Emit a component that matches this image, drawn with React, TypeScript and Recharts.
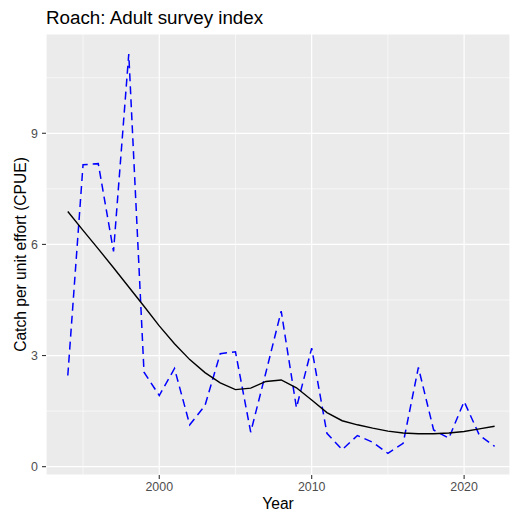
import { CartesianGrid, Line, LineChart, ReferenceLine, XAxis, YAxis } from "recharts";

const years = [
  1994, 1995, 1996, 1997, 1998, 1999, 2000, 2001, 2002, 2003, 2004, 2005, 2006, 2007, 2008,
  2009, 2010, 2011, 2012, 2013, 2014, 2015, 2016, 2017, 2018, 2019, 2020, 2021, 2022,
];

const cpue = [
  2.46, 8.15, 8.18, 5.81, 11.14, 2.55, 1.92, 2.65, 1.13, 1.65, 3.05, 3.1, 0.93, 2.55, 4.2,
  1.59, 3.2, 0.9, 0.46, 0.84, 0.66, 0.36, 0.63, 2.68, 0.99, 0.77, 1.76, 0.85, 0.55,
];

const smooth = [
  6.89, 6.38, 5.88, 5.37, 4.85, 4.33, 3.8, 3.32, 2.89, 2.54, 2.26, 2.08, 2.12, 2.3, 2.34,
  2.13, 1.8, 1.46, 1.24, 1.13, 1.04, 0.96, 0.91, 0.89, 0.89, 0.91, 0.95, 1.02, 1.09,
];

const xTicks = [2000, 2010, 2020];
const xMinor = [1995, 2005, 2015];
const yTicks = [0, 3, 6, 9];
const yMinor = [1.5, 4.5, 7.5, 10.5];

const chartData = years.map((year, i) => ({
  year,
  cpue: cpue[i],
  smooth: smooth[i],
}));

const font = "'Liberation Sans', Arial, sans-serif";
const tickStyle = { fill: "#4D4D4D", fontSize: 12.4, fontFamily: font };

export default function App() {
  return (
    <div style={{ position: "absolute", left: 0, top: 0, width: 510, height: 510, background: "#fff" }}>
      <LineChart
        width={510}
        height={510}
        data={chartData}
        margin={{ top: 34, right: 0, bottom: 0, left: 0 }}
      >
        <CartesianGrid fill="#EBEBEB" stroke="#FFFFFF" strokeWidth={1.2} />
        {xMinor.map((v) => (
          <ReferenceLine key={`x${v}`} x={v} stroke="#FFFFFF" strokeWidth={0.6} />
        ))}
        {yMinor.map((v) => (
          <ReferenceLine key={`y${v}`} y={v} stroke="#FFFFFF" strokeWidth={0.6} />
        ))}
        <XAxis
          dataKey="year"
          type="number"
          domain={[1992.57, 2023.01]}
          ticks={xTicks}
          allowDataOverflow
          height={35}
          axisLine={false}
          tickSize={4}
          tickMargin={3}
          tickLine={{ stroke: "#333333", strokeWidth: 1.1 }}
          tick={tickStyle}
        />
        <YAxis
          type="number"
          domain={[-0.225, 11.68]}
          ticks={yTicks}
          allowDataOverflow
          width={46}
          axisLine={false}
          tickSize={4}
          tickMargin={4}
          tickLine={{ stroke: "#333333", strokeWidth: 1.1 }}
          tick={tickStyle}
        />
        <Line
          dataKey="cpue"
          stroke="#0000FF"
          strokeWidth={1.5}
          strokeDasharray="8 5"
          dot={false}
          activeDot={false}
          isAnimationActive={false}
        />
        <Line
          dataKey="smooth"
          stroke="#000000"
          strokeWidth={1.4}
          dot={false}
          activeDot={false}
          isAnimationActive={false}
        />
      </LineChart>
      <svg
        width={510}
        height={510}
        style={{ position: "absolute", left: 0, top: 0, pointerEvents: "none" }}
      >
        <text x={46} y={23.5} fontSize={18.8} fontFamily={font} fill="#000">
          Roach: Adult survey index
        </text>
        <text x={278} y={508.5} fontSize={15.6} fontFamily={font} fill="#000" textAnchor="middle">
          Year
        </text>
        <text
          transform="translate(25.5,254.5) rotate(-90)"
          fontSize={15.6}
          fontFamily={font}
          fill="#000"
          textAnchor="middle"
        >
          Catch per unit effort (CPUE)
        </text>
      </svg>
    </div>
  );
}
